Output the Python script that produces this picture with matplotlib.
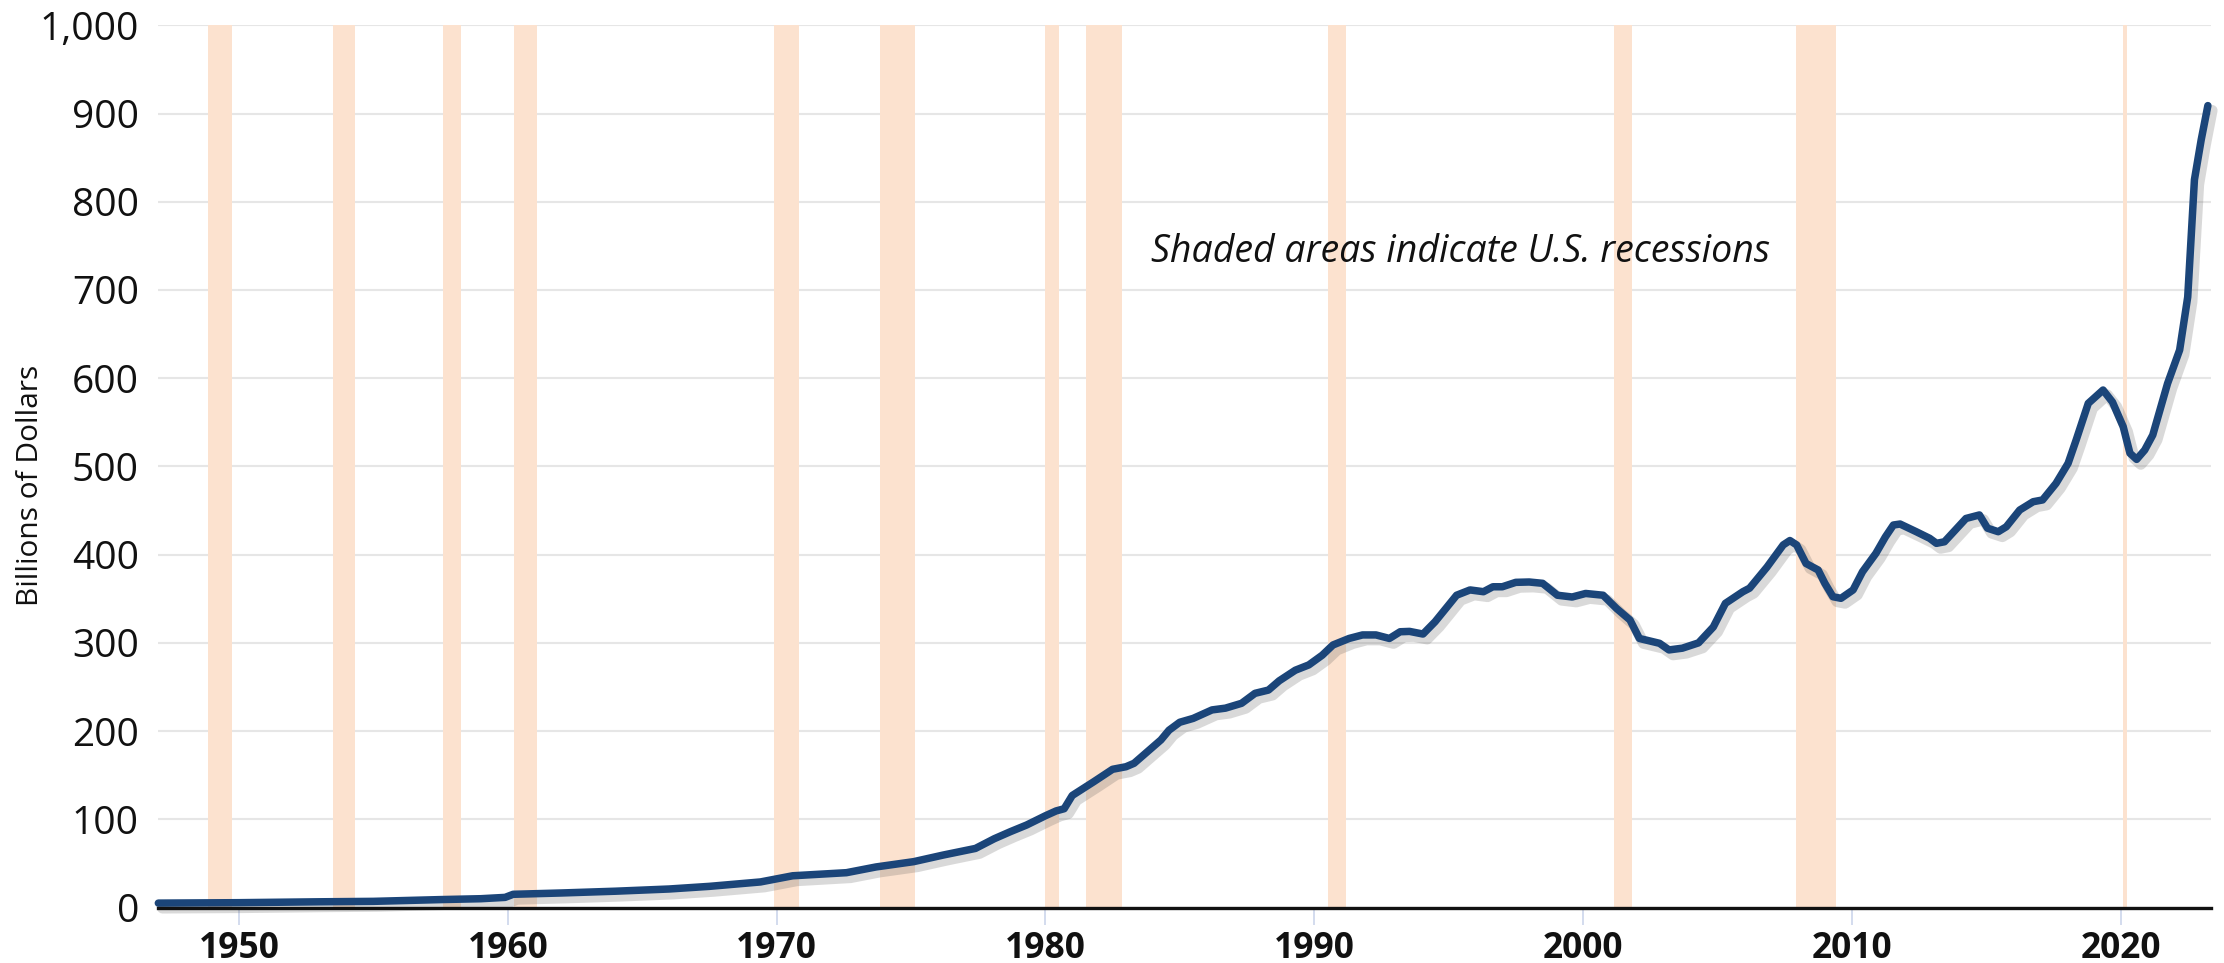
import matplotlib
matplotlib.use("Agg")
import matplotlib.pyplot as plt
import matplotlib.patheffects as pe

plt.rcParams["font.family"] = ["Open Sans", "DejaVu Sans"]

# quarterly-ish readings (decimal year, billions of dollars)
YEARS = [1947.0, 1950.0, 1953.0, 1955.0, 1957.5, 1959.0, 1959.9, 1960.2, 1962.0,
         1964.0, 1966.0, 1967.5, 1969.4, 1970.6, 1972.6, 1973.7, 1975.1, 1976.2,
         1977.4, 1978.1, 1978.7, 1979.3, 1980.0, 1980.4, 1980.7, 1981.0, 1981.8,
         1982.5, 1983.0, 1983.3, 1984.3, 1984.6, 1985.0, 1985.5, 1986.2, 1986.7,
         1987.3, 1987.8, 1988.3, 1988.7, 1989.3, 1989.8, 1990.3, 1990.7, 1991.3,
         1991.8, 1992.3, 1992.8, 1993.2, 1993.55, 1994.05, 1994.5, 1995.3, 1995.8,
         1996.3, 1996.65, 1997.0, 1997.5, 1998.0, 1998.5, 1999.05, 1999.6, 2000.1,
         2000.75, 2001.25, 2001.75, 2002.1, 2002.85, 2003.2, 2003.7, 2004.3,
         2004.85, 2005.3, 2005.95, 2006.2, 2006.85, 2007.45, 2007.7, 2007.95,
         2008.3, 2008.75, 2009.0, 2009.3, 2009.6, 2010.05, 2010.4, 2010.9,
         2011.25, 2011.55, 2011.8, 2012.4, 2012.9, 2013.15, 2013.45, 2014.25,
         2014.75, 2015.05, 2015.45, 2015.75, 2016.25, 2016.75, 2017.1, 2017.6,
         2018.05, 2018.35, 2018.8, 2019.35, 2019.7, 2020.1, 2020.35, 2020.6,
         2020.9, 2021.2, 2021.75, 2022.2, 2022.5, 2022.75, 2023.0, 2023.25]
VALUES = [5, 5.5, 6.5, 7, 9, 10, 11.5, 15, 16.5,
          18.5, 21, 24, 29, 36, 39.5, 46, 52, 59.5,
          67, 78, 86, 93.5, 104, 109.5, 112, 127, 142.6,
          156.7, 159.6, 163.5, 190, 201, 210, 214.4, 224, 226,
          231.5, 242.8, 246.5, 257, 269, 275, 286, 297.6, 305,
          309, 309, 305, 312.6, 313, 310, 324, 354, 360,
          358, 363.6, 363.6, 368.6, 369, 367.5, 354, 352, 356,
          354, 339, 326, 305, 299.5, 292, 294, 300,
          318, 344.8, 358, 362, 386, 411, 416, 411,
          390, 382.6, 367.5, 352.3, 350.5, 360, 380.6, 401.5,
          420, 433.6, 434.7, 426, 418.5, 412.8, 414.6, 441,
          445, 430, 426, 431.6, 450.6, 460, 462, 480.8,
          503.5, 530, 571.5, 586.6, 573, 545, 515, 508,
          518.6, 535.6, 594, 632, 692, 825, 870, 909]

# U.S. recessions (peak month, trough month) as decimal years
REC_START = [1948 + 10/12, 1953 + 6/12, 1957 + 7/12, 1960 + 3/12, 1969 + 11/12,
             1973 + 10/12, 1980.0, 1981 + 6/12, 1990 + 6/12, 2001 + 2/12,
             2007 + 11/12, 2020 + 1/12]
REC_END = [1949 + 9/12, 1954 + 4/12, 1958 + 3/12, 1961 + 1/12, 1970 + 10/12,
           1975 + 2/12, 1980 + 6/12, 1982 + 10/12, 1991 + 2/12, 2001 + 10/12,
           2009 + 5/12, 2020 + 3/12]

X_TICKS = [1950, 1960, 1970, 1980, 1990, 2000, 2010, 2020]
Y_TICKS = list(range(0, 1001, 100))

LINE_COLOR = "#1b4579"
REC_COLOR = "#fce2cf"

fig = plt.figure(figsize=(22.24, 9.63), dpi=100)
ax = fig.add_axes([0.0712, 0.0576, 0.9230, 0.9161])

for s, e in zip(REC_START, REC_END):
    ax.axvspan(s, e, color=REC_COLOR, lw=0, zorder=1)

ax.plot(YEARS, VALUES, color=LINE_COLOR, lw=5.4, solid_capstyle="round",
        solid_joinstyle="round", zorder=3, clip_on=False,
        path_effects=[pe.SimpleLineShadow(offset=(3, -3.5), shadow_color="#555555",
                                          alpha=0.22, linewidth=8),
                      pe.Normal()])

ax.set_xlim(1947.0, 2023.37)
ax.set_ylim(0, 1000)

ax.set_yticks(Y_TICKS)
ax.set_yticklabels([f"{v:,}" for v in Y_TICKS])
ax.tick_params(axis="y", length=0, pad=14, labelsize=28, labelcolor="#111111")
ax.grid(axis="y", color="#e6e6e6", lw=1.5, zorder=0)
ax.set_axisbelow(True)

ax.set_xticks(X_TICKS)
ax.set_xticklabels([str(y) for y in X_TICKS], fontweight="bold")
ax.tick_params(axis="x", length=12, width=1.2, color="#ccd6eb", pad=5,
               labelsize=25.5, labelcolor="#111111")

for side in ["top", "right", "left"]:
    ax.spines[side].set_visible(False)
ax.spines["bottom"].set_linewidth(2.4)
ax.spines["bottom"].set_color("#111111")
ax.spines["bottom"].set_zorder(4)

ax.text(1995.44, 732, "Shaded areas indicate U.S. recessions", style="italic",
        fontsize=27, ha="center", va="baseline", color="#111111", zorder=5)

fig.text(31 / 2224, 1 - 485 / 963, "Billions of Dollars", rotation=90,
         ha="center", va="center", fontsize=21.5, color="#111111")

fig.savefig("out.png", dpi=100, facecolor="white")
